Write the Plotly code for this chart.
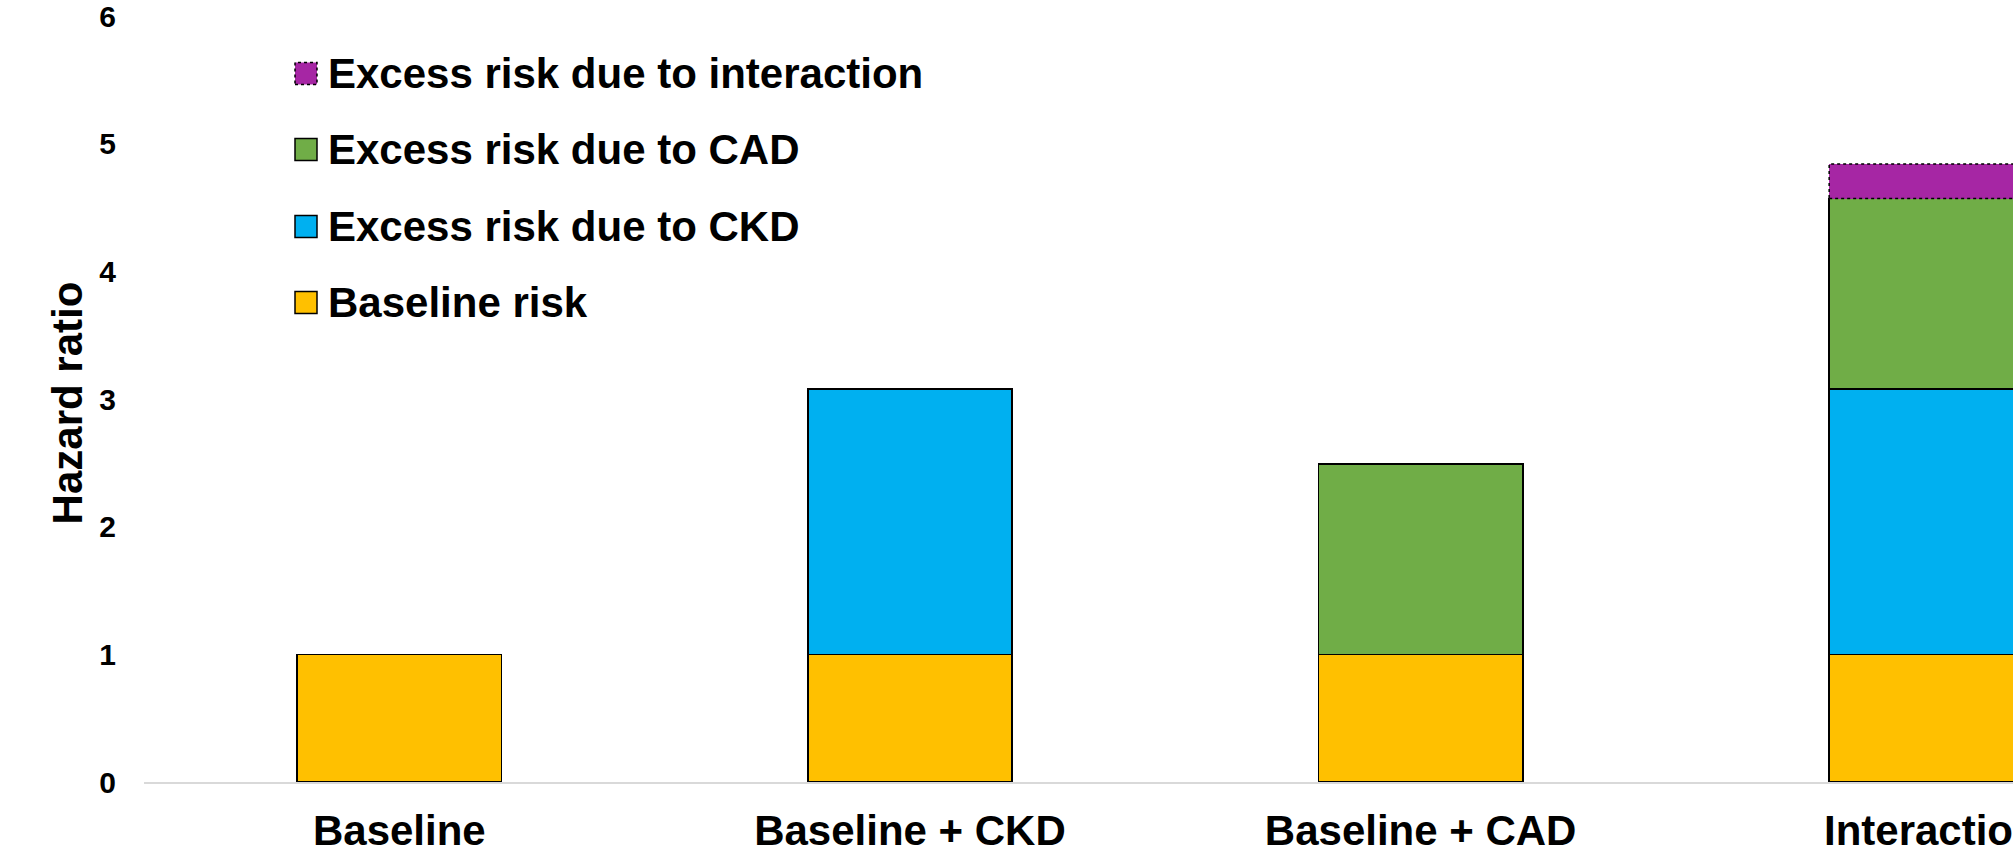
import plotly.graph_objects as go

# Stacked hazard-ratio components for each exposure group
categories = ["Baseline", "Baseline + CKD", "Baseline + CAD", "Interaction"]
baseline_risk = [1.0, 1.0, 1.0, 1.0]
excess_ckd = [0.0, 2.08, 0.0, 2.08]
excess_cad = [0.0, 0.0, 1.49, 1.49]
excess_interaction = [0.0, 0.0, 0.0, 0.27]

series_names = [
    "Baseline risk",
    "Excess risk due to CKD",
    "Excess risk due to CAD",
    "Excess risk due to interaction",
]
series_colors = ["#FFC000", "#00B0F0", "#70AD47", "#A626A4"]
y_ticks = [0, 1, 2, 3, 4, 5, 6]

FONT = "Liberation Sans, Arial, sans-serif"
W, H = 2013, 851
M_L, M_R, M_T, M_B = 144, 0, 15.5, 69.3
PLOT_W = W - M_L - M_R
PLOT_H = H - M_T - M_B
BAR_W = 0.4


def px_x(px):
    return (px - M_L) / PLOT_W


def px_y(py):
    return (H - M_B - py) / PLOT_H


def seg(values):
    return [v if v else None for v in values]


series_values = [baseline_risk, excess_ckd, excess_cad, excess_interaction]

fig = go.Figure()
for name, vals, color in zip(series_names, series_values, series_colors):
    dotted = name == "Excess risk due to interaction"
    fig.add_trace(go.Bar(
        x=categories,
        y=seg(vals),
        name=name,
        width=BAR_W,
        marker=dict(color=color,
                    line=dict(color="black", width=0 if dotted else 1.5)),
        showlegend=False,
    ))

# dotted outline around the interaction segment
shapes = []
for i, extra in enumerate(excess_interaction):
    if extra:
        bottom = baseline_risk[i] + excess_ckd[i] + excess_cad[i]
        shapes.append(dict(
            type="rect", xref="x", yref="y",
            x0=i - BAR_W / 2, x1=i + BAR_W / 2,
            y0=bottom, y1=bottom + extra,
            line=dict(color="black", width=1.5, dash="dot"),
            fillcolor="rgba(0,0,0,0)",
        ))

# legend: square swatches with labels, top entry first
annotations = []
legend_rows = [73, 149, 226, 302]
for row_y, name, color in zip(legend_rows, series_names[::-1], series_colors[::-1]):
    dotted = name == "Excess risk due to interaction"
    shapes.append(dict(
        type="rect", xref="paper", yref="paper",
        x0=px_x(295), x1=px_x(317),
        y0=px_y(row_y + 11), y1=px_y(row_y - 11),
        fillcolor=color,
        line=dict(color="black", width=1.5, dash="dot" if dotted else "solid"),
    ))
    annotations.append(dict(
        xref="paper", yref="paper", x=px_x(326), y=px_y(row_y),
        xanchor="left", yanchor="middle", showarrow=False, text=name,
        font=dict(family=FONT, size=42, color="black", weight="bold"),
    ))

annotations.append(dict(
    xref="paper", yref="paper", x=px_x(67), y=px_y(403),
    xanchor="center", yanchor="middle", showarrow=False, textangle=-90,
    text="Hazard ratio",
    font=dict(family=FONT, size=42, color="black", weight="bold"),
))

fig.update_layout(
    width=W, height=H,
    margin=dict(l=M_L, r=M_R, t=M_T, b=M_B, pad=0),
    barmode="stack",
    plot_bgcolor="white", paper_bgcolor="white",
    showlegend=False,
    shapes=shapes,
    annotations=annotations,
    xaxis=dict(
        type="category",
        range=[-0.5, 3.16],
        showline=True, linecolor="#D9D9D9", linewidth=2,
        showgrid=False, zeroline=False, ticks="",
        tickfont=dict(family=FONT, size=42, color="black", weight="bold"),
        ticklabelstandoff=11,
        ticklabeloverflow="allow",
        automargin=False,
    ),
    yaxis=dict(
        range=[0, 6],
        tickvals=y_ticks,
        showline=False, showgrid=False, zeroline=False, ticks="",
        tickfont=dict(family=FONT, size=30, color="black", weight="bold"),
        ticklabelstandoff=27,
        ticklabeloverflow="allow",
        automargin=False,
    ),
)

fig.write_html("out.html")
